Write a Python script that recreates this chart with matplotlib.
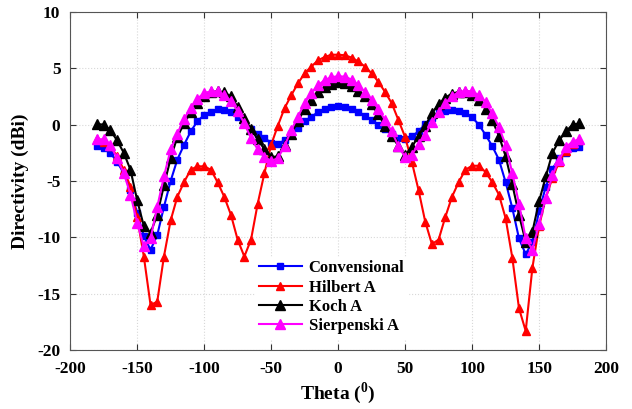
import numpy as np
import matplotlib
matplotlib.use('Agg')
import matplotlib.pyplot as plt

plt.rcParams['font.family'] = 'Liberation Serif'
plt.rcParams['font.weight'] = 'bold'
plt.rcParams['axes.unicode_minus'] = False
plt.rcParams['mathtext.fontset'] = 'custom'
plt.rcParams['mathtext.rm'] = 'Liberation Serif:bold'
plt.rcParams['mathtext.bf'] = 'Liberation Serif:bold'

# angles, every 5 degrees
theta = np.arange(-180, 181, 5)

conventional = [-1.9, -2.1, -2.5, -3.3, -4.3, -5.8, -7.8, -9.9, -11.1, -9.8, -7.3, -5.0, -3.1,
                -1.8, -0.6, 0.3, 0.85, 1.15, 1.35, 1.3, 1.15, 0.7, 0.1, -0.35, -0.8, -1.2, -1.6,
                -1.7, -1.4, -0.8, -0.3, 0.3, 0.7, 1.1, 1.4, 1.6, 1.65,
                1.55, 1.35, 1.15, 0.8, 0.4, 0.0, -0.4, -0.8, -1.2, -1.3, -1.05, -0.6, 0.05,
                0.6, 1.0, 1.2, 1.3, 1.25, 1.0, 0.65, 0.0, -0.9, -1.9, -3.1, -5.1, -7.4, -10.1,
                -11.5, -10.4, -7.7, -5.5, -3.9, -3.0, -2.5, -2.1, -1.95]

hilbert = [-1.3, -1.5, -1.9, -2.8, -4.0, -5.5, -8.2, -11.7, -16.0, -15.7, -11.7, -8.5, -6.4,
           -5.1, -4.0, -3.7, -3.7, -4.0, -5.1, -6.4, -8.0, -10.2, -11.7, -10.2, -7.0, -4.3, -1.8,
           -0.1, 1.45, 2.6, 3.65, 4.55, 5.15, 5.7, 6.0, 6.2, 6.2,
           6.15, 5.95, 5.6, 5.15, 4.55, 3.8, 2.9, 1.9, 0.4, -1.1, -3.3, -5.8, -8.6,
           -10.6, -10.2, -8.2, -6.4, -5.1, -4.0, -3.65, -3.65, -4.2, -5.1, -6.2, -8.3, -11.8, -16.3,
           -18.3, -12.7, -9.0, -6.5, -4.7, -3.3, -2.3, -1.7, -1.4]

koch = [0.05, 0.0, -0.5, -1.4, -2.5, -4.0, -6.7, -9.0, -9.6, -8.0, -5.4, -3.0, -1.1,
        0.1, 1.1, 1.9, 2.5, 2.9, 2.95, 2.85, 2.5, 1.6, 0.6, -0.4, -1.3, -2.2, -2.9,
        -2.8, -1.8, -0.8, 0.3, 1.4, 2.2, 2.9, 3.35, 3.6, 3.75,
        3.65, 3.45, 3.0, 2.5, 1.8, 0.9, -0.1, -1.0, -1.9, -2.7, -2.0, -1.0, -0.1,
        1.0, 1.8, 2.4, 2.75, 2.9, 2.85, 2.6, 2.2, 1.4, 0.4, -1.0, -2.8, -5.3, -8.0,
        -10.4, -9.5, -6.8, -4.6, -2.5, -1.4, -0.6, 0.0, 0.1]

sierpenski = [-1.3, -1.3, -1.8, -3.0, -4.3, -6.2, -8.7, -10.8, -10.1, -7.3, -4.6, -2.2, -0.8,
              0.5, 1.5, 2.3, 2.8, 2.95, 2.95, 2.6, 2.1, 1.2, 0.1, -1.2, -2.2, -2.9, -3.2,
              -3.0, -1.9, -0.5, 0.7, 1.9, 2.8, 3.5, 3.95, 4.2, 4.3,
              4.25, 4.0, 3.5, 2.9, 2.2, 1.4, 0.4, -0.6, -1.9, -2.9, -2.7, -1.7, -0.9,
              0.2, 1.1, 1.9, 2.5, 2.9, 3.0, 2.95, 2.6, 2.0, 1.0, -0.2, -1.8, -4.3, -7.0,
              -10.1, -11.1, -8.8, -6.5, -4.5, -3.1, -2.0, -1.5, -1.3]

fig = plt.figure(figsize=(6.32, 4.09), dpi=100)
ax = fig.add_axes([0.111, 0.144, 0.848, 0.827])

ax.plot(theta, conventional, '-s', color='#0000ff', lw=1.5, ms=4.5, label='Convensional')
ax.plot(theta, hilbert, '-^', color='#ff0000', lw=1.5, ms=6, label='Hilbert A')
ax.plot(theta, koch, '-^', color='black', lw=1.5, ms=7, label='Koch A')
ax.plot(theta, sierpenski, '-^', color='#ff00ff', lw=1.5, ms=7, label='Sierpenski A')

ax.set_xlim(-200, 200)
ax.set_ylim(-20, 10)
ax.set_xticks(np.arange(-200, 201, 50))
ax.set_yticks(np.arange(-20, 11, 5))
ax.grid(True, color='#d8d8d8', linestyle=':', linewidth=0.8)
ax.tick_params(direction='in', top=True, right=True, labelsize=12.5, colors='#333333',
               labelcolor='black', length=4)
ax.tick_params(axis='x', pad=8)
ax.tick_params(axis='y', pad=7)
for s in ax.spines.values():
    s.set_color('#555555')

ax.set_xlabel(r'Theta ($^{0}$)', fontsize=14, fontweight='bold', labelpad=2)
ax.set_ylabel('Directivity (dBi)', fontsize=14, fontweight='bold', labelpad=6)

leg = ax.legend(loc='upper left', bbox_to_anchor=(0.33, 0.30), fontsize=12, frameon=True,
                fancybox=False, edgecolor='white', framealpha=1, handlelength=2.6,
                labelspacing=0.2, borderpad=0.2, handletextpad=0.4)

fig.savefig('out.png', dpi=100)
